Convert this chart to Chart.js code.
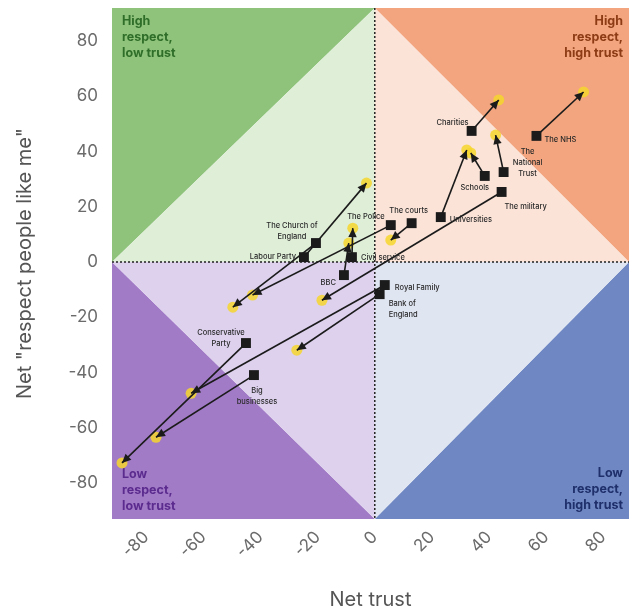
<!DOCTYPE html>
<html>
<head>
<meta charset="utf-8">
<script src="https://cdn.jsdelivr.net/npm/chart.js@4.4.1/dist/chart.umd.min.js"></script>
<style>
  body { margin: 0; background: #fff; overflow: hidden; }
</style>
</head>
<body>
<canvas id="chart" width="636" height="614"></canvas>
<script>
// institutions, before (square) and after (arrow head)
const names = ['Charities', 'The NHS', 'The National Trust', 'Schools', 'Universities',
  'The military', 'The courts', 'The Police', 'The Church of England', 'Labour Party',
  'Civil service', 'BBC', 'Conservative Party', 'Big businesses', 'Royal Family', 'Bank of England'];
const trustBefore   = [33.9, 56.6, 45.1, 38.5, 23.1, 44.4, 12.9,   5.6, -20.6, -24.8, -8.0, -10.8, -45.1, -42.3,   3.5,   1.7];
const respectBefore = [47.5, 45.7, 32.6, 31.2, 16.3, 25.4, 14.1,  13.4,   6.9,   1.8,  1.8,  -4.7, -29.3, -40.9,  -8.3, -11.6];
const trustAfter    = [43.4, 73.1, 42.3, 33.6, 32.2, -18.5, 5.6, -42.8, -49.7,  -2.9, -7.7,  -9.1, -88.5, -76.6, -64.3, -27.3];
const respectAfter  = [58.7, 61.6, 46.0, 39.5, 40.6, -13.8, 8.0, -11.9, -16.3,  28.6, 12.3,   6.9, -72.7, -63.4, -47.5, -31.9];
const xTicks = [-80, -60, -40, -20, 0, 20, 40, 60, 80];
const yTicks = [-80, -60, -40, -20, 0, 20, 40, 60, 80];

const FONT = 'Inter';
Chart.defaults.font.family = FONT;

// where each label sits relative to its square
const labelPlacement = {
  'Charities': { dx: -3, dy: -8, align: 'right' },
  'The NHS': { dx: 8, dy: 4, align: 'left' },
  'The National Trust': { dx: 24, dy: -20, align: 'center', lines: ['The', 'National', 'Trust'] },
  'Schools': { dx: -10, dy: 12, align: 'center' },
  'Universities': { dx: 9, dy: 3, align: 'left' },
  'The military': { dx: 24, dy: 15, align: 'center' },
  'The courts': { dx: -3, dy: -12, align: 'center' },
  'The Police': { dx: -6, dy: -8, align: 'right' },
  'The Church of England': { dx: -24, dy: -17, align: 'center', lines: ['The Church of', 'England'] },
  'Labour Party': { dx: -8, dy: 0, align: 'right' },
  'Civil service': { dx: 9, dy: 1, align: 'left' },
  'BBC': { dx: -8, dy: 8, align: 'right' },
  'Conservative Party': { dx: -25, dy: -10, align: 'center', lines: ['Conservative', 'Party'] },
  'Big businesses': { dx: 3, dy: 16, align: 'center', lines: ['Big', 'businesses'] },
  'Royal Family': { dx: 10, dy: 3, align: 'left' },
  'Bank of England': { dx: 9, dy: 10, align: 'left', lines: ['Bank of', 'England'] }
};

const quadrantBg = {
  id: 'quadrantBg',
  beforeDatasetsDraw(chart) {
    const { ctx, chartArea: a, scales: { x, y } } = chart;
    const x0 = x.getPixelForValue(0), y0 = y.getPixelForValue(0);
    const poly = (pts, color) => {
      ctx.beginPath();
      ctx.moveTo(pts[0][0], pts[0][1]);
      pts.slice(1).forEach(p => ctx.lineTo(p[0], p[1]));
      ctx.closePath();
      ctx.fillStyle = color;
      ctx.fill();
    };
    ctx.save();
    // top left
    poly([[a.left, y0], [a.left, a.top], [x0, a.top]], '#8fc37c');
    poly([[a.left, y0], [x0, a.top], [x0, y0]], '#dfeed7');
    // top right
    poly([[x0, a.top], [a.right, a.top], [a.right, y0]], '#f2a57e');
    poly([[x0, a.top], [a.right, y0], [x0, y0]], '#fbe3d7');
    // bottom left
    poly([[a.left, y0], [a.left, a.bottom], [x0, a.bottom]], '#a27bc6');
    poly([[a.left, y0], [x0, a.bottom], [x0, y0]], '#ddd1ee');
    // bottom right
    poly([[x0, a.bottom], [a.right, a.bottom], [a.right, y0]], '#6f88c3');
    poly([[x0, a.bottom], [a.right, y0], [x0, y0]], '#e0e5f2');

    // dotted zero lines
    ctx.strokeStyle = '#222';
    ctx.lineWidth = 1.5;
    ctx.setLineDash([2, 2]);
    ctx.beginPath();
    ctx.moveTo(x0, a.top); ctx.lineTo(x0, a.bottom);
    ctx.moveTo(a.left, y0); ctx.lineTo(a.right, y0);
    ctx.stroke();
    ctx.setLineDash([]);

    // corner captions
    ctx.font = `bold 12.5px ${FONT}`;
    ctx.textBaseline = 'middle';
    const caption = (lines, px, py, align, color) => {
      ctx.textAlign = align;
      ctx.fillStyle = color;
      lines.forEach((t, i) => ctx.fillText(t, px, py + i * 16));
    };
    caption(['High', 'respect,', 'low trust'], a.left + 10, a.top + 13, 'left', '#2f6e29');
    caption(['High', 'respect,', 'high trust'], a.right - 6, a.top + 13, 'right', '#8c3b14');
    caption(['Low', 'respect,', 'low trust'], a.left + 10, a.bottom - 45, 'left', '#5b2b8e');
    caption(['Low', 'respect,', 'high trust'], a.right - 6, a.bottom - 46, 'right', '#1f2f6b');
    ctx.restore();
  }
};

const arrowsAndLabels = {
  id: 'arrowsAndLabels',
  afterDatasetsDraw(chart) {
    const { ctx, scales: { x, y } } = chart;
    ctx.save();
    names.forEach((name, i) => {
      const bx = x.getPixelForValue(trustBefore[i]), by = y.getPixelForValue(respectBefore[i]);
      const ax = x.getPixelForValue(trustAfter[i]), ay = y.getPixelForValue(respectAfter[i]);
      const ang = Math.atan2(ay - by, ax - bx);
      const len = 9, half = 4.2;
      ctx.beginPath();
      ctx.moveTo(ax, ay);
      ctx.lineTo(ax - len * Math.cos(ang) + half * Math.sin(ang), ay - len * Math.sin(ang) - half * Math.cos(ang));
      ctx.lineTo(ax - len * Math.cos(ang) - half * Math.sin(ang), ay - len * Math.sin(ang) + half * Math.cos(ang));
      ctx.closePath();
      ctx.fillStyle = '#1b1b1b';
      ctx.fill();

      const p = labelPlacement[name];
      const lines = p.lines || [name];
      ctx.font = `500 7.5px ${FONT}`;
      ctx.fillStyle = '#2a2a2a';
      ctx.textAlign = p.align;
      ctx.textBaseline = 'middle';
      lines.forEach((t, k) => ctx.fillText(t, bx + p.dx, by + p.dy + k * 11));
    });
    ctx.restore();
  }
};

const datasets = names.map((name, i) => ({
  label: name,
  data: [{ x: trustBefore[i], y: respectBefore[i] }, { x: trustAfter[i], y: respectAfter[i] }],
  showLine: true,
  borderColor: '#1b1b1b',
  borderWidth: 1.6,
  pointStyle: 'rect',
  pointRadius: [7, 0],
  pointBackgroundColor: '#1b1b1b',
  pointBorderWidth: 0,
  order: 1
}));

// yellow highlight under the new positions
datasets.push({
  label: 'now',
  data: trustAfter.map((v, i) => ({ x: v, y: respectAfter[i] })),
  showLine: false,
  pointRadius: 5.5,
  pointBackgroundColor: 'rgba(246, 214, 45, 0.85)',
  pointBorderWidth: 0,
  order: 5
});

const tickFont = { size: 17, family: FONT };
const titleFont = { size: 20, family: FONT };

new Chart(document.getElementById('chart'), {
  type: 'scatter',
  data: { datasets },
  options: {
    responsive: false,
    animation: false,
    events: [],
    layout: { padding: { top: 8, right: 0, left: 0, bottom: 0 } },
    plugins: { legend: { display: false }, tooltip: { enabled: false } },
    scales: {
      x: {
        type: 'linear',
        min: -92,
        max: 89,
        grid: { display: false, drawTicks: false },
        border: { display: false },
        afterBuildTicks: s => { s.ticks = xTicks.map(v => ({ value: v })); },
        afterFit: s => { s.height = 95; s.paddingLeft = 0; s.paddingRight = 0; },
        ticks: { minRotation: 45, maxRotation: 45, padding: 8, color: '#6b6b6b', font: tickFont },
        title: { display: true, text: 'Net trust', color: '#555', font: titleFont, padding: { top: 0, bottom: 2 } }
      },
      y: {
        type: 'linear',
        min: -93,
        max: 92,
        grid: { display: false, drawTicks: false },
        border: { display: false },
        afterBuildTicks: s => { s.ticks = yTicks.map(v => ({ value: v })); },
        afterFit: s => { s.width = 112; s.paddingTop = 0; s.paddingBottom = 0; },
        ticks: { padding: 14, color: '#6b6b6b', font: tickFont },
        title: { display: true, text: 'Net "respect people like me"', color: '#555', font: titleFont, padding: { top: 13, bottom: 0 } }
      }
    }
  },
  plugins: [quadrantBg, arrowsAndLabels]
});
</script>
</body>
</html>
